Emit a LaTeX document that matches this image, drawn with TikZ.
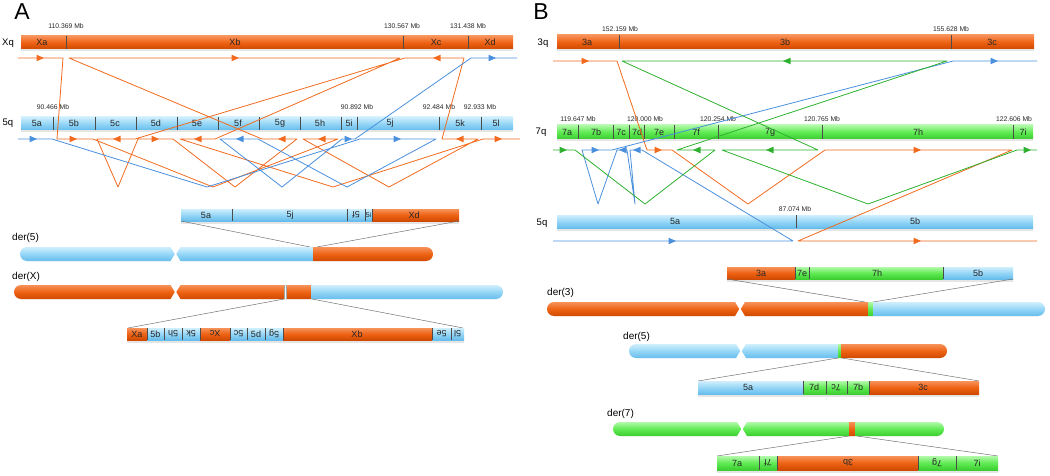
\documentclass[tikz,border=0pt]{standalone}
\usepackage{fontspec}
\setmainfont{Liberation Sans}
\definecolor{orT}{HTML}{F7925A}
\definecolor{orM}{HTML}{EE6214}
\definecolor{orB}{HTML}{CF4A00}
\definecolor{blT}{HTML}{D0EFFD}
\definecolor{blM}{HTML}{95D6F7}
\definecolor{blB}{HTML}{66BDEC}
\definecolor{grT}{HTML}{B2F9AA}
\definecolor{grM}{HTML}{60EB54}
\definecolor{grB}{HTML}{3CCD30}
\definecolor{orL}{HTML}{F26A1E}
\definecolor{blL}{HTML}{4A90DC}
\definecolor{grL}{HTML}{2EB02E}
\tikzset{
  orsh/.style={top color=orT, bottom color=orB, middle color=orM},
  blsh/.style={top color=blT, bottom color=blB, middle color=blM},
  grsh/.style={top color=grT, bottom color=grB, middle color=grM},
  divl/.style={draw=black!70, line width=0.5pt},
  mbl/.style={font=\fontsize{6.8}{7}\selectfont, text=black!85, inner sep=0pt},
  seglab/.style={font=\fontsize{9}{9}\selectfont, text=black!85, inner sep=0pt},
  chrlab/.style={font=\fontsize{10}{11}\selectfont, anchor=west, inner sep=0pt},
  sidelab/.style={font=\fontsize{9.5}{10}\selectfont, inner sep=0pt},
  panlab/.style={font=\fontsize{23}{23}\selectfont, inner sep=0pt},
  zl/.style={draw=black!55, line width=0.5pt},
  trk/.style={line width=0.8pt, line join=round},
  shad/.style={fill=black, opacity=0.10},
}
\newcommand\mySeg[5]{\fill[shad] (#1,#4) rectangle (#2,#4+2.5);\shade[#5] (#1,#3) rectangle (#2,#4);}
\newcommand\myDiv[3]{\draw[divl] (#1,#2) -- (#1,#3);}
\newcommand\myLab[3]{\node[seglab] at (#1,#2) {#3};}
\newcommand\myRLab[3]{\node[seglab,rotate=180] at (#1,#2) {#3};}
\newcommand\myAR[3]{\fill[#3] (#1,#2) ++(4,0) -- ++(-7.5,-3.3) -- ++(0,6.6) -- cycle;}
\newcommand\myAL[3]{\fill[#3] (#1,#2) ++(-4,0) -- ++(7.5,-3.3) -- ++(0,6.6) -- cycle;}
% xL xc xR yt yb
\newcommand\myChrClip[5]{\clip (#2-0.8,{(#4+#5)/2}) -- (#2-5,#4) -- (#1+7,#4) arc[start angle=270,end angle=90,radius=7] -- (#2-5,#5) -- cycle
 (#2+0.8,{(#4+#5)/2}) -- (#2+5,#4) -- (#3-7,#4) arc[start angle=-90,end angle=90,radius=7] -- (#2+5,#5) -- cycle;}
\begin{document}
\begin{tikzpicture}[x=1pt,y=-1pt]
\useasboundingbox (0,0) rectangle (1050,476);
% ================= PANEL A =================
\node[panlab] (pA) at (22,12) {A};
\node[sidelab] (lXq) at (8,43) {Xq};
\node[sidelab] (l5qA) at (8,123) {5q};
% Xq bar
\mySeg{21}{513}{36}{49}{orsh}
\myDiv{66}{36}{49}\myDiv{403}{36}{49}\myDiv{468}{36}{49}
\myLab{42}{42.5}{Xa}\myLab{235}{42.5}{Xb}\myLab{436}{42.5}{Xc}\myLab{490}{42.5}{Xd}
\node[mbl] at (66,26) {110.369 Mb};
\node[mbl] at (402,26) {130.567 Mb};
\node[mbl] at (468,26) {131.438 Mb};
% 5q bar
\mySeg{21}{513}{117}{130}{blsh}
\foreach \x in {53,95,136,177,218,259,300,341,357,439,481}{\myDiv{\x}{117}{130}}
\myLab{37}{123.5}{5a}\myLab{74}{123.5}{5b}\myLab{115}{123.5}{5c}\myLab{156}{123.5}{5d}
\myLab{197}{123.5}{5e}\myLab{238}{123.5}{5f}\myLab{280}{123.5}{5g}\myLab{320}{123.5}{5h}
\myLab{349}{123.5}{5i}\myLab{390}{123.5}{5j}\myLab{460}{123.5}{5k}\myLab{496}{123.5}{5l}
\node[mbl] at (53,107) {90.466 Mb};
\node[mbl] at (357,107) {90.892 Mb};
\node[mbl] at (439,107) {92.484 Mb};
\node[mbl] at (480,107) {92.933 Mb};
% tracks A
\draw[trk,orL] (18,58) -- (63,58) -- (57,139) -- (93,139) -- (213,187) -- (338,139) -- (303,139)
  -- (389,187) -- (478,139) -- (442,139) -- (464,58) -- (405,58) -- (135,139) -- (97,139)
  -- (118,187) -- (138,139) -- (173,139) -- (235,187) -- (297,139) -- (262,139) -- (69,58)
  -- (400,58) -- (215,139) -- (180,139) -- (333,187) -- (483,139) -- (520,139);
\draw[trk,blL] (18,139) -- (52,139) -- (207,187) -- (360,139) -- (436,139) -- (347,187)
  -- (258,139) -- (220,139) -- (282,187) -- (342,139) -- (355,139) -- (471,58) -- (517,58);
\myAR{40}{58}{orL}\myAR{235}{58}{orL}\myAL{437}{58}{orL}\myAR{492}{58}{blL}
\myAR{33}{139}{blL}\myAR{73}{139}{orL}\myAL{117}{139}{orL}\myAR{155}{139}{orL}
\myAL{198}{139}{orL}\myAL{240}{139}{blL}\myAL{282}{139}{orL}\myAL{322}{139}{orL}
\myAR{348}{139}{blL}\myAR{397}{139}{blL}\myAL{460}{139}{orL}\myAR{498}{139}{orL}
% der(5) A zoom bar
\mySeg{181}{372}{209}{221}{blsh}\mySeg{372}{459}{209}{221}{orsh}
\foreach \x in {232,347,365,372}{\myDiv{\x}{209}{221}}
\myLab{206}{215}{5a}\myLab{290}{215}{5j}\myRLab{356}{215}{5f}
\node[seglab,font=\fontsize{7}{7}\selectfont] at (368.5,215) {5i};
\myLab{414}{215}{Xd}
\draw[zl] (181,221) -- (310,247);
\draw[zl] (459,221) -- (317,247);
\node[chrlab] at (12,238) {der(5)};
\begin{scope}
\myChrClip{20}{175.5}{433}{247}{261}
\mySeg{15}{313}{247}{261}{blsh}\mySeg{313}{440}{247}{261}{orsh}
\end{scope}
% der(X) A
\node[chrlab] at (12,277) {der(X)};
\begin{scope}
\myChrClip{14}{175.5}{503}{285}{299}
\mySeg{10}{311}{285}{299}{orsh}\mySeg{311}{510}{285}{299}{blsh}
\fill[white!70!blT] (284,285) rectangle (286.5,299);
\draw[black!35,line width=0.3pt] (284,285) -- (284,299) (286.5,285) -- (286.5,299);
\end{scope}
\draw[zl] (284,299) -- (128,328);
\draw[zl] (312,299) -- (463,328);
\mySeg{127}{147}{328}{340}{orsh}\mySeg{147}{200}{328}{340}{blsh}\mySeg{200}{230}{328}{340}{orsh}
\mySeg{230}{283}{328}{340}{blsh}\mySeg{283}{432}{328}{340}{orsh}\mySeg{432}{464}{328}{340}{blsh}
\foreach \x in {147,164,182,200,230,247,265,283,432,451}{\myDiv{\x}{328}{340}}
\myLab{137}{334}{Xa}\myLab{155.5}{334}{5b}\myRLab{173}{334}{5h}\myRLab{191}{334}{5k}
\myRLab{215}{334}{Xc}\myRLab{238.5}{334}{5c}\myLab{256}{334}{5d}\myRLab{274}{334}{5g}
\myLab{357}{334}{Xb}\myRLab{441.5}{334}{5e}\myRLab{457.5}{334}{5l}
% ================= PANEL B =================
\node[panlab] (pB) at (541,12) {B};
\node[sidelab] (l3q) at (543,43) {3q};
\node[sidelab] (l7q) at (541,132) {7q};
\node[sidelab] (l5qB) at (542,223) {5q};
% 3q bar
\mySeg{557}{1034}{35}{49}{orsh}
\myDiv{619}{35}{49}\myDiv{951}{35}{49}
\myLab{587}{42}{3a}\myLab{785}{42}{3b}\myLab{992}{42}{3c}
\node[mbl] at (620,29) {152.159 Mb};
\node[mbl] at (951,29) {155.628 Mb};
% 7q bar
\mySeg{557}{1033}{125}{139}{grsh}
\foreach \x in {578,613,629,644,674,718,822,1013}{\myDiv{\x}{125}{139}}
\myLab{567}{132}{7a}\myLab{596}{132}{7b}\myLab{621}{132}{7c}\myLab{637}{132}{7d}
\myLab{659}{132}{7e}\myLab{696}{132}{7f}\myLab{770}{132}{7g}\myLab{918}{132}{7h}\myLab{1023}{132}{7i}
\node[mbl] at (578,119) {119.647 Mb};
\node[mbl] at (645,119) {120.000 Mb};
\node[mbl] at (718,119) {120.254 Mb};
\node[mbl] at (822,119) {120.765 Mb};
\node[mbl] at (1014,119) {122.606 Mb};
% 5q bar B
\mySeg{557}{1033}{215}{228}{blsh}
\myDiv{796}{215}{228}
\myLab{675}{221.5}{5a}\myLab{915}{221.5}{5b}
\node[mbl] at (795,209) {87.074 Mb};
% tracks B
\draw[trk,orL] (553,61) -- (617,61) -- (647,150) -- (672,150) -- (748,204) -- (825,150)
  -- (1012,150) -- (798,241) -- (1037,241);
\draw[trk,blL] (553,241) -- (793,241) -- (642,150) -- (630,150) -- (635,204) -- (627,150)
  -- (617,150) -- (598,204) -- (582,150) -- (612,150) -- (953,61) -- (1037,61);
\draw[trk,grL] (553,150) -- (575,150) -- (645,204) -- (715,150) -- (677,150) -- (947,61)
  -- (622,61) -- (818,150) -- (722,150) -- (868,204) -- (1017,150) -- (1037,150);
\myAR{585}{61}{orL}\myAL{787}{61}{grL}\myAR{994}{61}{blL}
\myAR{563}{150}{grL}\myAR{595}{150}{blL}\myAL{623}{150}{blL}\myAL{637}{150}{blL}
\myAR{658}{150}{orL}\myAL{697}{150}{grL}\myAL{770}{150}{grL}\myAR{917}{150}{orL}\myAR{1027}{150}{grL}
\myAR{672}{241}{blL}\myAR{917}{241}{orL}
% der(3) B
\mySeg{727}{795}{267}{279}{orsh}\mySeg{795}{943}{267}{279}{grsh}\mySeg{943}{1013}{267}{279}{blsh}
\foreach \x in {795,809,943}{\myDiv{\x}{267}{279}}
\myLab{761}{273}{3a}\myLab{802}{273}{7e}\myLab{877}{273}{7h}\myLab{978}{273}{5b}
\draw[zl] (727,279) -- (865,302);
\draw[zl] (1013,279) -- (873,302);
\node[chrlab] at (547,293) {der(3)};
\begin{scope}
\myChrClip{547}{740}{1045}{302}{316}
\mySeg{540}{868}{302}{316}{orsh}\mySeg{868}{873}{302}{316}{grsh}\mySeg{873}{1050}{302}{316}{blsh}
\end{scope}
% der(5) B
\node[chrlab] at (623,337) {der(5)};
\begin{scope}
\myChrClip{629}{741}{947}{344}{358}
\mySeg{620}{838}{344}{358}{blsh}\mySeg{838}{841}{344}{358}{grsh}\mySeg{841}{955}{344}{358}{orsh}
\end{scope}
\draw[zl] (838,358) -- (698,381);
\draw[zl] (842,358) -- (979,381);
\mySeg{698}{803}{381}{394}{blsh}\mySeg{803}{869}{381}{394}{grsh}\mySeg{869}{979}{381}{394}{orsh}
\foreach \x in {803,826,847,869}{\myDiv{\x}{381}{394}}
\myLab{748}{387.5}{5a}\myLab{814}{387.5}{7d}\myRLab{836}{387.5}{7c}\myLab{858}{387.5}{7b}\myLab{923}{387.5}{3c}
% der(7) B
\node[chrlab] at (607,414) {der(7)};
\begin{scope}
\myChrClip{613}{742}{944}{422}{436}
\mySeg{605}{849}{422}{436}{grsh}\mySeg{849}{855}{422}{436}{orsh}\mySeg{855}{950}{422}{436}{grsh}
\end{scope}
\draw[zl] (849,436) -- (717,456);
\draw[zl] (857,436) -- (998,456);
\mySeg{717}{777}{456}{470}{grsh}\mySeg{777}{918}{456}{470}{orsh}\mySeg{918}{998}{456}{470}{grsh}
\foreach \x in {759,777,918,956}{\myDiv{\x}{456}{470}}
\myLab{737}{463}{7a}\myRLab{768}{463}{7f}\myRLab{848}{463}{3b}\myRLab{937}{463}{7g}\myLab{977}{463}{7i}
\end{tikzpicture}
\end{document}
